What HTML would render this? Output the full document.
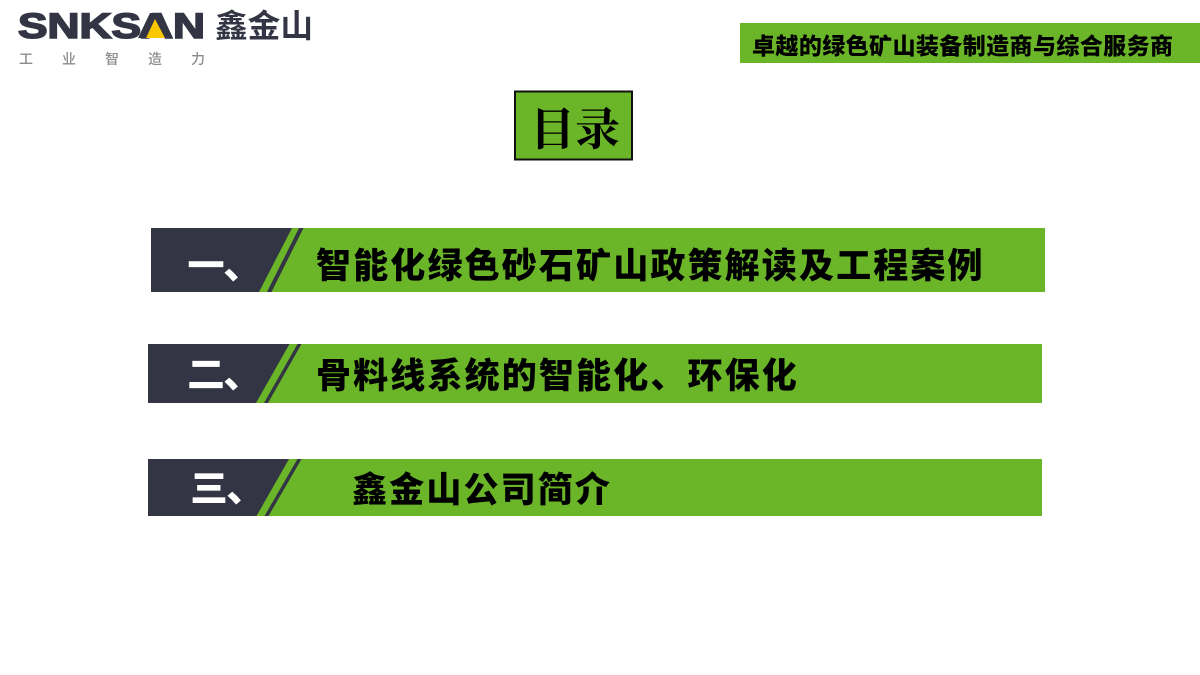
<!DOCTYPE html>
<html lang="zh"><head><meta charset="utf-8"><title>目录</title>
<style>
html,body{margin:0;padding:0;background:#fff;width:1200px;height:675px;overflow:hidden}
svg{display:block}
text{font-family:"Liberation Sans","Noto Sans CJK SC",sans-serif}
.t{font-size:35px;font-weight:900;fill:#000;letter-spacing:2.150px}
.n{font-size:36px;font-weight:700;fill:#fff;stroke:#fff;stroke-width:1.200px}
.s{font-size:14px;font-weight:500;fill:#8c8c8c}
</style></head><body>
<svg width="1200" height="675" viewBox="0 0 1200 675" xmlns="http://www.w3.org/2000/svg">
<rect width="1200" height="675" fill="#fff"/>
<!-- logo -->
<text x="18" y="38" font-size="35" font-weight="700" fill="#333544" stroke="#333544" stroke-width="1.600" textLength="187" lengthAdjust="spacingAndGlyphs" style="font-family:'Liberation Sans',sans-serif">SNKSAN</text>
<polygon points="138,38 150,13 160,13 173,38" fill="#333544"/>
<polygon points="146,38 155,19 165,38" fill="#fbc700"/>
<text x="215" y="37" font-size="32" font-weight="700" fill="#333544" textLength="98" lengthAdjust="spacingAndGlyphs">鑫金山</text>
<text x="19" y="64" class="s">工</text><text x="62" y="64" class="s">业</text><text x="105" y="64" class="s">智</text><text x="148" y="64" class="s">造</text><text x="191" y="64" class="s">力</text>
<!-- header band -->
<rect x="740" y="23" width="460" height="40" fill="#6bb529"/>
<text x="752" y="54" font-size="23" font-weight="900" fill="#000" textLength="421">卓越的绿色矿山装备制造商与综合服务商</text>
<!-- title -->
<rect x="515" y="91.500" width="117" height="68" fill="#6bb529" stroke="#111" stroke-width="2"/>
<text x="530" y="145" font-size="45" font-weight="700" fill="#000" style="font-family:'Noto Serif CJK SC',serif">目录</text>
<!-- row 1 -->
<rect x="151" y="228" width="894" height="64" fill="#6bb529"/>
<polygon points="151,228 292,228 259,292 151,292" fill="#333544"/>
<polygon points="299,228 303.500,228 271.500,292 267,292" fill="#333544"/>
<text x="188" y="278" class="n">一、</text>
<text x="316" y="278" class="t">智能化绿色砂石矿山政策解读及工程案例</text>
<!-- row 2 -->
<rect x="148" y="344" width="894" height="59" fill="#6bb529"/>
<polygon points="148,344 289.500,344 256,403 148,403" fill="#333544"/>
<polygon points="297.500,344 301.500,344 268,403 264,403" fill="#333544"/>
<text x="188" y="387" class="n">二、</text>
<text x="316" y="388" class="t">骨料线系统的智能化、环保化</text>
<!-- row 3 -->
<rect x="148" y="459" width="894" height="57" fill="#6bb529"/>
<polygon points="148,459 289,459 256.500,516 148,516" fill="#333544"/>
<polygon points="297.500,459 301.500,459 268.500,516 264.500,516" fill="#333544"/>
<text x="191" y="501" class="n">三、</text>
<text x="352" y="502" class="t">鑫金山公司简介</text>
</svg>
</body></html>
